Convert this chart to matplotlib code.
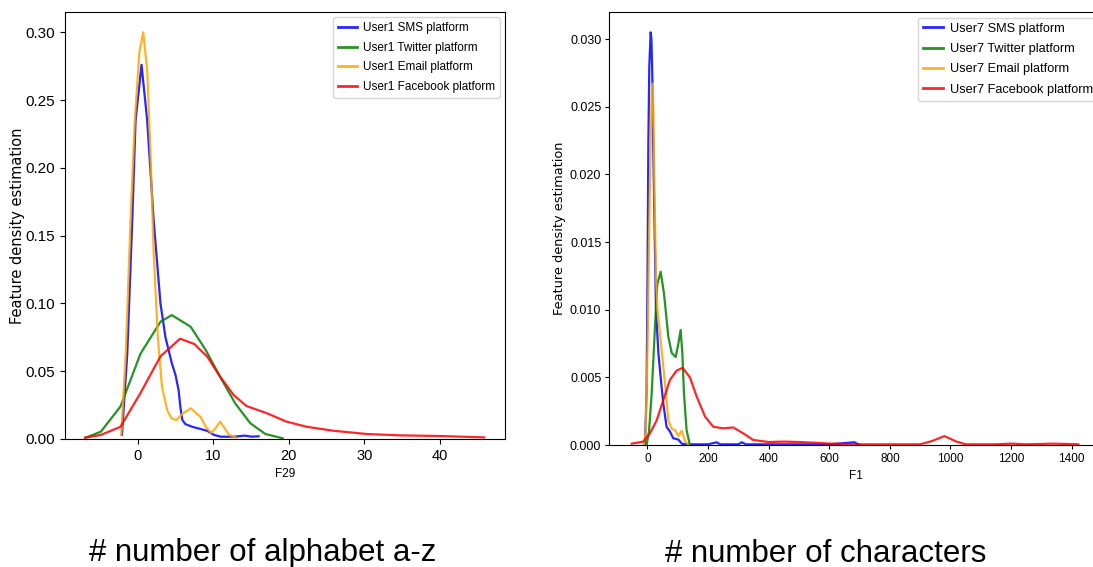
#! usr/bin/env python3
# -*- coding: utf-8 -*-
'''
Feature density estimation per platform, two features side by side.
'''

import numpy as np
import matplotlib
matplotlib.use('Agg')
import matplotlib.pyplot as plt
from matplotlib import font_manager


# ------ DATA ----------------------------------

PLATFORMS = ['SMS', 'Twitter', 'Email', 'Facebook']
COLORS = ['blue', 'green', 'orange', 'red']

# LEFT PANEL : F29, User1
F29_SMS_X = [-2.1, -1.4, -0.74, -0.3, 0.49, 1.24, 2.1, 3.0, 3.66, 4.5, 5.0, 5.4, 5.65, 5.9,
             6.3, 7.2, 8.3, 9.2, 10.1, 11.0, 12.8, 14.2, 15.1, 16.0]
F29_SMS_Y = [0.003, 0.063, 0.161, 0.235, 0.276, 0.235, 0.161, 0.100, 0.075, 0.056, 0.047,
             0.036, 0.023, 0.014, 0.011, 0.009, 0.0074, 0.006, 0.003, 0.0017, 0.0017, 0.0025,
             0.0017, 0.002]

F29_TWITTER_X = [-6.9, -4.9, -2.3, 0.36, 3.0, 4.5, 7.0, 9.0, 10.9, 12.9, 14.9, 16.9, 19.2]
F29_TWITTER_Y = [0.001, 0.0054, 0.024, 0.063, 0.0865, 0.0914, 0.0828, 0.0656, 0.0459, 0.0263,
                 0.0116, 0.0037, 0.0005]

F29_EMAIL_X = [-2.2, -1.6, -0.97, -0.4, 0.2, 0.71, 1.24, 1.68, 2.1, 2.65, 3.2, 3.9, 4.5, 5.1,
               6.0, 7.0, 8.3, 9.0, 9.7, 10.3, 10.9, 11.5, 12.1, 13.1]
F29_EMAIL_Y = [0.003, 0.063, 0.161, 0.235, 0.285, 0.300, 0.272, 0.21, 0.137, 0.075, 0.0385,
               0.021, 0.015, 0.014, 0.019, 0.0226, 0.0164, 0.009, 0.0045, 0.008, 0.0128, 0.008,
               0.003, 0.0008]

F29_FACEBOOK_X = [-7.0, -4.9, -2.3, 0.36, 3.0, 5.6, 7.5, 9.2, 10.9, 12.7, 14.4, 17.1, 19.7,
                  22.4, 25.9, 30.3, 34.7, 40.0, 45.9]
F29_FACEBOOK_Y = [0.001, 0.003, 0.009, 0.034, 0.061, 0.074, 0.070, 0.0607, 0.046, 0.0324,
                  0.0243, 0.019, 0.0128, 0.009, 0.0061, 0.0037, 0.0027, 0.0022, 0.0012]

# RIGHT PANEL : F1, User7
F1_SMS_X = [-8, -3, 0, 2.8, 6, 10.5, 13, 16, 19, 22.5, 28, 36, 43.5, 52, 63, 74, 85, 102, 113,
            130, 200, 228, 240, 300, 311, 325, 450, 600, 683, 700]
F1_SMS_Y = [0.0001, 0.004, 0.012, 0.0222, 0.028, 0.0305, 0.030, 0.0272, 0.022, 0.0173, 0.010,
            0.0068, 0.005, 0.0031, 0.00135, 0.001, 0.0005, 0.0004, 0.0001, 0.00005, 0.00005,
            0.0002, 0.00005, 0.00005, 0.0002, 0.00005, 0.00005, 0.00005, 0.0002, 0.0]

F1_TWITTER_X = [-3, 5, 13.8, 24.7, 32.5, 43.5, 54.5, 68.8, 80, 93, 102, 109.4, 115, 120.5, 129, 140]
F1_TWITTER_Y = [0.0, 0.001, 0.0038, 0.0087, 0.0119, 0.0128, 0.0112, 0.008, 0.0068, 0.0065,
                0.0075, 0.0085, 0.0068, 0.0038, 0.0011, 0.0]

F1_EMAIL_X = [-12, -6, 0, 5, 10, 14, 17, 20, 22.5, 28, 33, 39, 50, 61, 69, 80, 91, 102, 113, 124, 135]
F1_EMAIL_Y = [0.0, 0.001, 0.007, 0.015, 0.022, 0.026, 0.0267, 0.024, 0.0198, 0.0124, 0.010,
              0.0087, 0.0063, 0.0038, 0.0018, 0.0012, 0.0011, 0.00066, 0.00105, 0.0003, 0.0]

F1_FACEBOOK_X = [-52, -14, 8, 30, 52, 74, 96, 116, 140, 162, 190, 217, 250, 283, 316, 349, 400,
                 450, 500, 550, 600, 700, 900, 940, 980, 1020, 1050, 1150, 1200, 1250, 1340, 1422]
F1_FACEBOOK_Y = [0.0001, 0.00025, 0.00086, 0.0018, 0.0033, 0.0048, 0.0055, 0.0057, 0.005,
                 0.0036, 0.0021, 0.00135, 0.00123, 0.0013, 0.00086, 0.00037, 0.00022, 0.00025,
                 0.00022, 0.00017, 0.0001, 0.00005, 0.00005, 0.0003, 0.00066, 0.00025, 0.00005,
                 0.00005, 0.0001, 0.00005, 0.0001, 0.00005]

LEFT_TICKS_Y = [0.00, 0.05, 0.10, 0.15, 0.20, 0.25, 0.30]
RIGHT_TICKS_Y = [0.000, 0.005, 0.010, 0.015, 0.020, 0.025, 0.030]

CAPTIONS = ['# number of alphabet a-z', '# number of characters']

# ----------------------------------------------


def pick_narrow():
	# narrow sans for ticks / legend, the reference text is squeezed horizontally
	names = {f.name for f in font_manager.fontManager.ttflist}
	for n in ['Liberation Sans Narrow', 'Liberation Sans', 'Arial']:
		if n in names:
			return n
	return 'DejaVu Sans'


def draw_panel(ax, series, user, xlabel, yticks, fmt, sizes):
	narrow = pick_narrow()
	for (xs, ys), name, col in zip(series, PLATFORMS, COLORS):
		ax.plot(np.array(xs), np.array(ys), color=col, lw=1.6, alpha=0.85,
				label='%s %s platform' % (user, name))

	ax.set_yticks(yticks)
	ax.set_yticklabels([fmt % v for v in yticks])
	ax.tick_params(axis='y', labelsize=sizes['ytick'], length=sizes['ticklen'], pad=sizes['pad'])
	ax.tick_params(axis='x', labelsize=sizes['xtick'], length=sizes['ticklen'], pad=sizes['pad'])
	for lab in ax.get_xticklabels() + ax.get_yticklabels():
		lab.set_family(narrow)

	ax.set_xlabel(xlabel, family=narrow, fontsize=sizes['xlabel'])
	ax.set_ylabel('Feature density estimation', family='DejaVu Sans', fontsize=sizes['ylabel'])
	ax.yaxis.set_label_coords(sizes['ylab_x'], 0.5)

	leg = ax.legend(loc='upper right', handlelength=1.6, handletextpad=0.5,
					borderpad=0.4, labelspacing=0.65, borderaxespad=0.45,
					prop={'family': narrow, 'size': sizes['legend']})
	for line in leg.get_lines():
		line.set_linewidth(2.0)


def main():

	# ------ FIGURE --------------------------------
	fig = plt.figure(figsize=(10.93, 5.67), dpi=100)

	ax1 = fig.add_axes([65 / 1093, 128 / 567, 440 / 1093, 427 / 567])
	ax2 = fig.add_axes([609 / 1093, 122 / 567, 494.5 / 1093, 433 / 567])

	# ------ LEFT ----------------------------------
	left = [(F29_SMS_X, F29_SMS_Y), (F29_TWITTER_X, F29_TWITTER_Y),
			(F29_EMAIL_X, F29_EMAIL_Y), (F29_FACEBOOK_X, F29_FACEBOOK_Y)]
	draw_panel(ax1, left, 'User1', 'F29', LEFT_TICKS_Y, '%.2f',
			   {'ytick': 11, 'xtick': 10.5, 'xlabel': 8.5, 'ylabel': 10.5,
				'legend': 8.5, 'ticklen': 3.5, 'pad': 3.5, 'ylab_x': -0.09})
	ax1.set_xlim(-9.65, 48.65)
	ax1.set_ylim(0, 0.315)

	# ------ RIGHT ---------------------------------
	right = [(F1_SMS_X, F1_SMS_Y), (F1_TWITTER_X, F1_TWITTER_Y),
			 (F1_EMAIL_X, F1_EMAIL_Y), (F1_FACEBOOK_X, F1_FACEBOOK_Y)]
	draw_panel(ax2, right, 'User7', 'F1', RIGHT_TICKS_Y, '%.3f',
			   {'ytick': 9, 'xtick': 8.5, 'xlabel': 8.5, 'ylabel': 9.3,
				'legend': 9.2, 'ticklen': 3, 'pad': 2.5, 'ylab_x': -0.086})
	ax2.set_xlim(-127, 1505)
	ax2.set_ylim(0, 0.032)

	# ------ CAPTIONS ------------------------------
	fig.text(263 / 1093, 5.5 / 567, CAPTIONS[0], ha='center', va='baseline',
			 family='Liberation Sans', fontsize=22.5)
	fig.text(826 / 1093, 5.5 / 567, CAPTIONS[1], ha='center', va='baseline',
			 family='Liberation Sans', fontsize=22.5)

	plt.savefig('out.png', dpi=100)


if __name__ == '__main__':
	main()
